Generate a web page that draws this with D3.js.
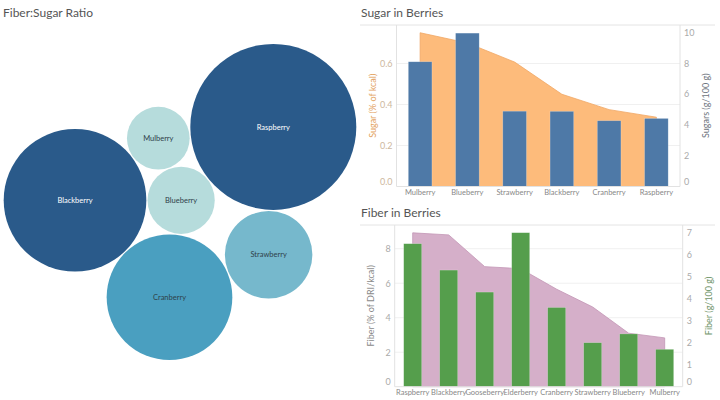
<!DOCTYPE html>
<html>
<head>
<meta charset="utf-8">
<script src="https://cdn.jsdelivr.net/npm/d3@7"></script>
<style>
    body { margin: 0; background: #fff; }
    svg { font-family: Lato, "Open Sans", sans-serif; }
</style>
</head>
<body>
<svg id="chart" width="720" height="400"></svg>
<script>
// sugar in berries
var sugarBerries = ['Mulberry', 'Blueberry', 'Strawberry', 'Blackberry', 'Cranberry', 'Raspberry'];
var sugarGrams = [8.1, 9.96, 4.89, 4.88, 4.27, 4.42];          // g/100 g (bars)
var sugarPctKcal = [0.75, 0.70, 0.607, 0.45, 0.375, 0.338];    // % of kcal (area)
var sugarPctTicks = [0, 0.2, 0.4, 0.6];
var sugarGramTicks = [0, 2, 4, 6, 8, 10];

// fiber in berries
var fiberBerries = ['Raspberry', 'Blackberry', 'Gooseberry', 'Elderberry', 'Cranberry', 'Strawberry', 'Blueberry', 'Mulberry'];
var fiberGrams = [6.5, 5.3, 4.3, 7.0, 3.6, 2.0, 2.4, 1.7];     // g/100 g (bars)
var fiberPctDri = [8.92, 8.8, 6.96, 6.84, 5.65, 4.62, 3.1, 2.83]; // % of DRI/kcal (area)
var fiberPctTicks = [0, 2, 4, 6, 8];
var fiberGramTicks = [0, 1, 2, 3, 4, 5, 6, 7];

// bubbles: berries that have both a fiber and a sugar value
var ratioBerries = ['Blackberry', 'Blueberry', 'Mulberry', 'Raspberry', 'Cranberry', 'Strawberry'];

var svg = d3.select('#chart');

function panelTitle(x, y, txt) {
    svg.append('text')
        .attr('x', x)
        .attr('y', y)
        .attr('font-size', 12)
        .attr('fill', '#555')
        .text(txt);
}

panelTitle(3, 17, 'Fiber:Sugar Ratio');
panelTitle(361, 17, 'Sugar in Berries');
panelTitle(361, 217, 'Fiber in Berries');

svg.append('line').attr('x1', 360).attr('x2', 715).attr('y1', 25).attr('y2', 25)
    .attr('stroke', '#e4e4e4');
svg.append('line').attr('x1', 360).attr('x2', 715).attr('y1', 225).attr('y2', 225)
    .attr('stroke', '#e4e4e4');

// ---------- bubbles ----------
var ratios = ratioBerries.map(function (b) {
    return fiberGrams[fiberBerries.indexOf(b)] / sugarGrams[sugarBerries.indexOf(b)];
});
var rScale = d3.scaleSqrt().domain([0, d3.max(ratios)]).range([0, 83]);
var bubbleColor = d3.scaleThreshold()
    .domain([0.3, 0.6, 1.0])
    .range(['#b6dcdc', '#76b8cc', '#4a9fc0', '#2a5a8a']);

var nodes = ratioBerries.map(function (b, i) {
    return {name: b, ratio: ratios[i], r: rScale(ratios[i])};
});
var byName = {};
nodes.forEach(function (n) { byName[n.name] = n; });

// each bubble is laid against two bubbles already placed
var pad = 0.6;
var chain = [
    ['Mulberry', 'Blackberry', 'Blueberry', -1],
    ['Raspberry', 'Mulberry', 'Blueberry', -1],
    ['Cranberry', 'Blackberry', 'Blueberry', 1],
    ['Strawberry', 'Cranberry', 'Raspberry', 1]
];
byName.Blackberry.x = 0;
byName.Blackberry.y = 0;
byName.Blueberry.x = byName.Blackberry.r + byName.Blueberry.r + 2 * pad;
byName.Blueberry.y = 0;
chain.forEach(function (c) {
    var n = byName[c[0]], a = byName[c[1]], b = byName[c[2]];
    var dx = b.x - a.x, dy = b.y - a.y;
    var d = Math.sqrt(dx * dx + dy * dy);
    var ra = a.r + n.r + 2 * pad, rb = b.r + n.r + 2 * pad;
    var t = (ra * ra - rb * rb + d * d) / (2 * d);
    var h = Math.sqrt(Math.max(0, ra * ra - t * t));
    var ux = dx / d, uy = dy / d;
    n.x = a.x + t * ux - c[3] * h * uy;
    n.y = a.y + t * uy + c[3] * h * ux;
});

var bx0 = d3.min(nodes, function (n) { return n.x - n.r; });
var bx1 = d3.max(nodes, function (n) { return n.x + n.r; });
var by0 = d3.min(nodes, function (n) { return n.y - n.r; });
var by1 = d3.max(nodes, function (n) { return n.y + n.r; });
var ox = 180 - (bx0 + bx1) / 2;
var oy = 202 - (by0 + by1) / 2;

var bubble = svg.append('g')
    .attr('transform', 'translate(' + ox + ',' + oy + ')')
    .selectAll('g')
    .data(nodes)
    .enter().append('g')
    .attr('transform', function (d) { return 'translate(' + d.x + ',' + d.y + ')'; });

bubble.append('circle')
    .attr('r', function (d) { return d.r; })
    .attr('fill', function (d) { return bubbleColor(d.ratio); });

bubble.append('text')
    .attr('text-anchor', 'middle')
    .attr('dy', '0.35em')
    .attr('font-size', 7.5)
    .attr('fill', function (d) { return d.ratio >= 1 ? '#fff' : '#2f3f4a'; })
    .text(function (d) { return d.name; });

// ---------- bar + area combos ----------
function combo(o) {
    var x = d3.scaleBand().domain(o.cats).range(o.xRange).paddingInner(0.5).paddingOuter(0.25);
    var yL = d3.scaleLinear().domain(o.leftDomain).range([o.base, o.leftTop]);
    var yR = d3.scaleLinear().domain(o.rightDomain).range([o.base, o.rightTop]);
    var g = svg.append('g');
    var x0 = o.xRange[0], x1 = o.xRange[1];

    // gridlines
    g.selectAll('.grid')
        .data(o.leftTicks.filter(function (d) { return d > 0; }))
        .enter().append('line')
        .attr('x1', x0).attr('x2', x1)
        .attr('y1', function (d) { return yL(d); })
        .attr('y2', function (d) { return yL(d); })
        .attr('stroke', '#f0f0f0');

    var area = d3.area()
        .x(function (d) { return x(d.cat) + x.bandwidth() / 2; })
        .y0(o.base)
        .y1(function (d) { return yL(d.v); });

    g.append('path')
        .datum(o.cats.map(function (c, i) { return {cat: c, v: o.area[i]}; }))
        .attr('d', area)
        .attr('fill', o.areaColor)
        .attr('stroke', o.areaStroke)
        .attr('stroke-width', 0.8);

    g.selectAll('.bar')
        .data(o.cats.map(function (c, i) { return {cat: c, v: o.bars[i]}; }))
        .enter().append('rect')
        .attr('x', function (d) { return x(d.cat); })
        .attr('width', x.bandwidth())
        .attr('y', function (d) { return yR(d.v); })
        .attr('height', function (d) { return o.base - yR(d.v); })
        .attr('fill', o.barColor)
        .attr('stroke', 'rgba(255,255,255,0.35)')
        .attr('stroke-width', 0.6);

    // axis lines
    g.append('line').attr('x1', x0).attr('x2', x0).attr('y1', o.top).attr('y2', o.base).attr('stroke', '#e2e2e2');
    g.append('line').attr('x1', x1).attr('x2', x1).attr('y1', o.top).attr('y2', o.base).attr('stroke', '#e2e2e2');
    g.append('line').attr('x1', x0).attr('x2', x1).attr('y1', o.base).attr('y2', o.base).attr('stroke', '#e2e2e2');

    var left = g.append('g')
        .attr('transform', 'translate(' + x0 + ',0)')
        .call(d3.axisLeft(yL).tickValues(o.leftTicks).tickSize(0).tickPadding(4).tickFormat(o.leftFormat));
    var right = g.append('g')
        .attr('transform', 'translate(' + x1 + ',0)')
        .call(d3.axisRight(yR).tickValues(o.rightTicks).tickSize(0).tickPadding(4).tickFormat(d3.format('d')));
    var bottom = g.append('g')
        .attr('transform', 'translate(0,' + o.base + ')')
        .call(d3.axisBottom(x).tickSize(0).tickPadding(3));

    [left, right, bottom].forEach(function (a) {
        a.select('.domain').remove();
        a.selectAll('text').attr('font-family', 'Lato, "Open Sans", sans-serif');
    });
    left.selectAll('text').attr('font-size', 9).attr('fill', o.leftTickColor);
    right.selectAll('text').attr('font-size', 9).attr('fill', '#aaa');
    bottom.selectAll('text').attr('font-size', 7.5).attr('fill', '#888');

    // zero labels are pulled up inside the pane
    left.selectAll('.tick').filter(function (d) { return d === 0; }).select('text').attr('y', -5);
    right.selectAll('.tick').filter(function (d) { return d === 0; }).select('text').attr('y', -5);

    var mid = (o.top + o.base) / 2;
    g.append('text')
        .attr('transform', 'translate(' + (x0 - 24) + ',' + mid + ') rotate(-90)')
        .attr('text-anchor', 'middle')
        .attr('dy', '0.35em')
        .attr('font-size', 9)
        .attr('fill', o.leftTitleColor)
        .text(o.leftTitle);
    g.append('text')
        .attr('transform', 'translate(' + (x1 + 26) + ',' + mid + ') rotate(-90)')
        .attr('text-anchor', 'middle')
        .attr('dy', '0.35em')
        .attr('font-size', 9)
        .attr('fill', o.rightTitleColor)
        .text(o.rightTitle);
}

combo({
    cats: sugarBerries,
    bars: sugarGrams,
    area: sugarPctKcal,
    leftTicks: sugarPctTicks,
    rightTicks: sugarGramTicks,
    leftFormat: d3.format('.1f'),
    xRange: [396.5, 680],
    top: 25,
    base: 186.5,
    leftDomain: [0, 0.6], leftTop: 63.5,
    rightDomain: [0, 10], rightTop: 32.5,
    areaColor: '#fdbb7b',
    areaStroke: '#f0a765',
    barColor: '#4e79a7',
    leftTickColor: '#cdb89e',
    leftTitle: 'Sugar (% of kcal)',
    leftTitleColor: '#e3a362',
    rightTitle: 'Sugars (g/100 g)',
    rightTitleColor: '#6e7580'
});

combo({
    cats: fiberBerries,
    bars: fiberGrams,
    area: fiberPctDri,
    leftTicks: fiberPctTicks,
    rightTicks: fiberGramTicks,
    leftFormat: d3.format('d'),
    xRange: [394.7, 682.7],
    top: 225,
    base: 386.7,
    leftDomain: [0, 8], leftTop: 248.7,
    rightDomain: [0, 7], rightTop: 232.7,
    areaColor: '#d5afc9',
    areaStroke: '#c396b5',
    barColor: '#559e4c',
    leftTickColor: '#aaa',
    leftTitle: 'Fiber (% of DRI/kcal)',
    leftTitleColor: '#8a8a8a',
    rightTitle: 'Fiber (g/100 g)',
    rightTitleColor: '#6f9468'
});
</script>
</body>
</html>
